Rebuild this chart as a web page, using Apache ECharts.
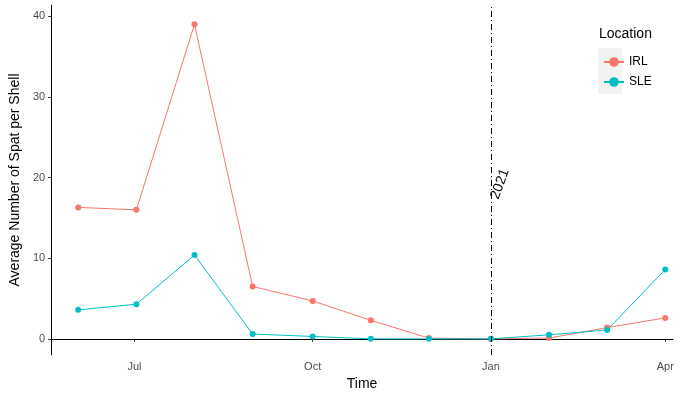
<!DOCTYPE html>
<html><head><meta charset="utf-8">
<script src="https://cdn.jsdelivr.net/npm/echarts@6/dist/echarts.min.js"></script>
<style>body{margin:0}#c{width:700px;height:400px}</style></head>
<body><div id="c"></div>
<script>
const dates=['2020-06-02','2020-07-02','2020-08-01','2020-08-31','2020-10-01','2020-10-31','2020-11-30','2021-01-01','2021-01-31','2021-03-02','2021-04-01'];
const irl=[16.3,16.0,39.0,6.5,4.7,2.3,0.1,0.0,0.1,1.4,2.6];
const sle=[3.6,4.3,10.4,0.6,0.3,0.0,0.0,0.0,0.5,1.1,8.6];
const xTicks=['2020-07-01','2020-10-01','2021-01-01','2021-04-01'];
const xTickLabels=['Jul','Oct','Jan','Apr'];
const yTicks=[0,10,20,30,40];
const DAY=86400000;
const base=Date.UTC(2020,0,1);
const ts=d=>Math.round((new Date(d+'T00:00:00Z').getTime()-base)/DAY);
const xt=xTicks.map(ts);
const chart=echarts.init(document.getElementById('c'));
const txt={color:'#4d4d4d',fontSize:11,fontFamily:'Liberation Sans'};
chart.setOption({
 animation:false,
 grid:{left:47,right:27,top:5,bottom:45},
 xAxis:{type:'value',min:ts('2020-05-19'),max:ts('2021-04-05'),
  name:'Time',nameLocation:'middle',nameGap:22,nameTextStyle:{color:'#000',fontSize:14,fontFamily:'Liberation Sans'},
  axisLine:{lineStyle:{color:'#000'}},splitLine:{show:false},
  axisTick:{customValues:xt,length:3,lineStyle:{color:'#333'}},
  axisLabel:Object.assign({customValues:xt,formatter:v=>xTickLabels[xt.indexOf(v)]||'',margin:6},txt)},
 yAxis:{type:'value',min:-2,max:41.4,
  name:'Average Number of Spat per Shell',nameLocation:'middle',nameGap:26,nameTextStyle:{color:'#000',fontSize:14,fontFamily:'Liberation Sans'},
  axisLine:{show:true,lineStyle:{color:'#000'}},splitLine:{show:false},
  axisTick:{show:true,customValues:yTicks,length:3,lineStyle:{color:'#333'}},
  axisLabel:Object.assign({customValues:yTicks,margin:6},txt)},
 legend:{orient:'vertical',left:598,top:51,itemGap:8,itemWidth:20,itemHeight:12,
  textStyle:{fontSize:12,fontFamily:'Liberation Sans',color:'#000'},data:['IRL','SLE']},
 graphic:[
  {type:'rect',shape:{x:598,y:48,width:24,height:46},style:{fill:'#f2f2f2'},z:-1},
  {type:'text',left:599,top:27,style:{text:'Location',fontSize:14,fontFamily:'Liberation Sans',fill:'#000'}},
  {type:'text',x:500,y:184,rotation:Math.PI*70/180,style:{text:'2021',fontSize:14,fontFamily:'Liberation Sans',fill:'#000',align:'center',verticalAlign:'middle'}}
 ],
 series:[
  {name:'IRL',type:'line',data:dates.map((d,i)=>[ts(d),irl[i]]),color:'#F8766D',symbol:'circle',symbolSize:6,lineStyle:{width:1},
   markLine:{silent:true,symbol:'none',label:{show:false},lineStyle:{color:'#000',type:[6,3,1,3],width:1},data:[{xAxis:ts('2021-01-01')}]}},
  {name:'SLE',type:'line',data:dates.map((d,i)=>[ts(d),sle[i]]),color:'#00BFC4',symbol:'circle',symbolSize:6,lineStyle:{width:1}}
 ]
});
</script></body></html>
